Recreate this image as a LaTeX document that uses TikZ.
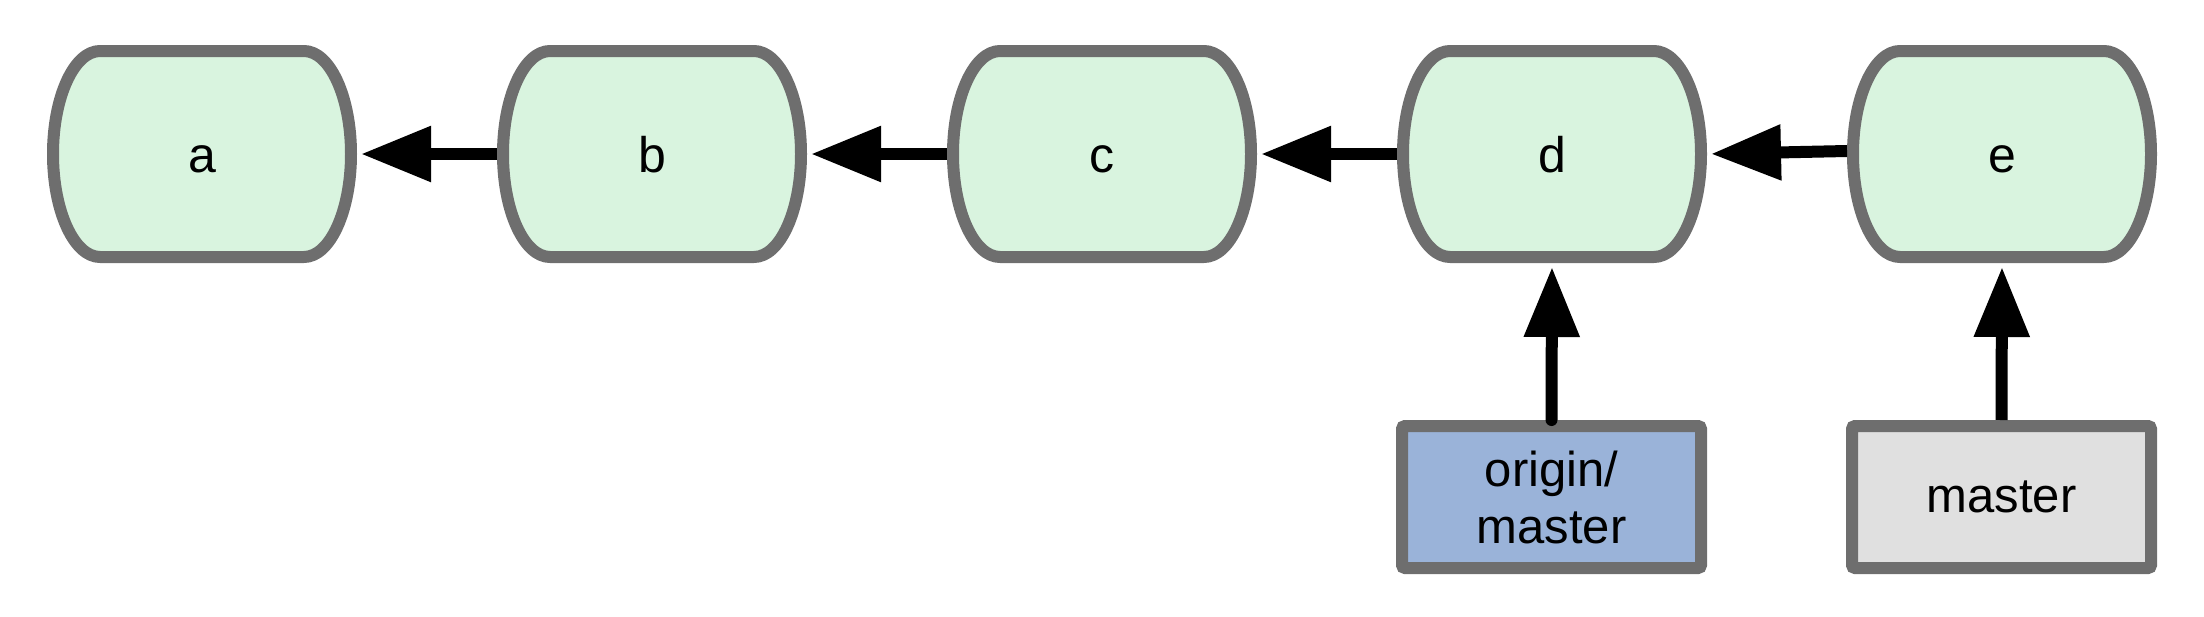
\documentclass[tikz,border=0pt]{standalone}
\usepackage{fontspec}
\setmainfont{Liberation Sans}
\usetikzlibrary{arrows.meta}
\pgfdeclarelayer{bg}
\pgfsetlayers{bg,main}
\definecolor{cfill}{HTML}{D9F4DF}
\definecolor{bordergray}{HTML}{6E6E6E}
\definecolor{ofill}{HTML}{9AB3D9}
\definecolor{mfill}{HTML}{E0E0E0}
\tikzset{
 commit/.style={minimum width=310pt, minimum height=218pt, inner sep=0pt, outer sep=0pt,
   font=\fontsize{50}{60}\selectfont, text height=36pt, text depth=0pt},
 commitshape/.style={fill=cfill, draw=bordergray, line width=12pt, line join=round},
 refbox/.style={draw=bordergray, line width=12pt, rounded corners=3pt, minimum width=299pt,
   minimum height=142pt, inner sep=0pt, font=\fontsize{49}{57}\selectfont, align=center},
 arr/.style={line width=12pt, -{Triangle[length=70pt,width=53pt]}, shorten >=4pt}
}
\begin{document}
\begin{tikzpicture}[x=1pt,y=-1pt]
\useasboundingbox (0,0) rectangle (2204,616);
\node[commit] (a) at (202,154) {a};
\node[commit] (b) at (652,154) {b};
\node[commit] (c) at (1102,154) {c};
\node[commit] (d) at (1552,154) {d};
\node[commit] (e) at (2002,154) {e};
\node[refbox, fill=ofill] (om) at (1551.5,497) {origin/\\master};
\node[refbox, fill=mfill, text height=36pt, text depth=6pt] (m) at (2001.5,497) {master};
\begin{pgfonlayer}{bg}
\foreach \n in {a,b,c,d,e}{
 \draw[commitshape] ([shift={(-102pt,-6pt)}]\n.north) -- ([shift={(102pt,-6pt)}]\n.north)
   arc[start angle=90,end angle=-90,x radius=47pt,y radius=103pt]
   -- ([shift={(-102pt,6pt)}]\n.south)
   arc[start angle=270,end angle=90,x radius=47pt,y radius=103pt] -- cycle;
}
\end{pgfonlayer}
\draw[arr] (b.west) -- (a.east);
\draw[arr] (c.west) -- (b.east);
\draw[arr] (d.west) -- (c.east);
\draw[arr] ([yshift=3pt]e.west) -- (d.east);
\draw[arr, line cap=round] (om.north) -- (d.south);
\draw[arr] (m.north) -- (e.south);
\end{tikzpicture}
\end{document}
